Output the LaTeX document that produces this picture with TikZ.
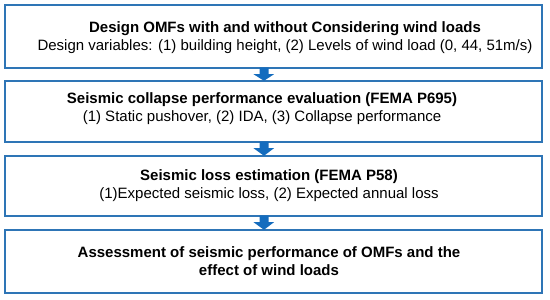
\documentclass[tikz,border=0pt]{standalone}
\usepackage{fontspec}
\setmainfont{Liberation Sans}
\usetikzlibrary{calc}
\definecolor{boxblue}{RGB}{46,117,182}
\definecolor{arrowblue}{RGB}{20,108,190}
\tikzset{
  stepbox/.style={draw=boxblue,line width=1.4pt,minimum width=537pt,inner sep=0pt},
  steptext/.style={align=center,inner sep=0pt,font=\fontsize{15}{18}\selectfont},
}
\newcommand{\flowarrow}[2]{%
  \fill[arrowblue] ($(#1.south)+(-14,-1)$) -- ++(9,0) -- ++(0,6.5) -- ++(5.5,0)
    -- ($(#2.north)+(-9.5,0.5)$) -- ($(#1.south)+(-20,5.5)$) -- ++(6,0) -- cycle;}
\begin{document}
\begin{tikzpicture}[x=1pt,y=-1pt]
      \useasboundingbox (0,0) rectangle (550,300);
      \node[stepbox,minimum height=63pt] (design) at (273.5,36.5) {};
      \node[stepbox,minimum height=61pt] (collapse) at (273.5,111.5) {};
      \node[stepbox,minimum height=60pt] (loss) at (273.5,186) {};
      \node[stepbox,minimum height=63pt] (assess) at (273.5,261.5) {};
      \node[steptext] (designtxt) at (285,38) {\textbf{Design OMFs with and without Considering wind loads}\\
        Design variables: (1) building height, (2) Levels of wind load (0, 44, 51m/s)};
      \node[steptext] (collapsetxt) at (262,109) {\textbf{Seismic collapse performance evaluation (FEMA P695)}\\
        (1) Static pushover, (2) IDA, (3) Collapse performance};
      \node[steptext] (losstxt) at (269,186) {\textbf{Seismic loss estimation (FEMA P58)}\\
        (1)Expected seismic loss, (2) Expected annual loss};
      \node[steptext] (assesstxt) at (269,261) {\textbf{Assessment of seismic performance of OMFs and the}\\
        \textbf{effect of wind loads}};
      \flowarrow{design}{collapse}
      \flowarrow{collapse}{loss}
      \flowarrow{loss}{assess}
    \end{tikzpicture}
\end{document}
